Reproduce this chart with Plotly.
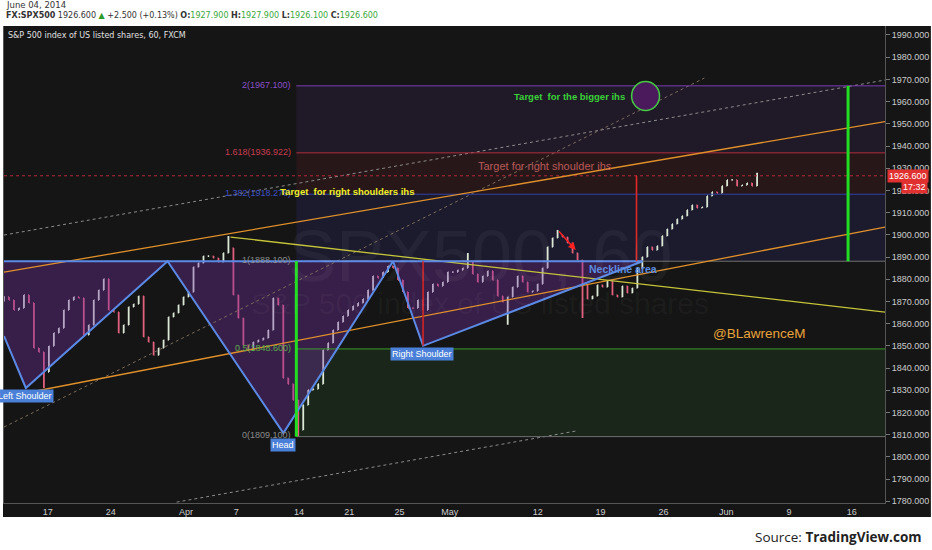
import plotly.graph_objects as go

# ---------------- data ----------------
# x unit = trading days since Mon 17 Mar 2014 (Good Friday excluded)
tick_days = [0, 5, 11, 15, 20, 24, 28, 32, 39, 44, 49, 54, 59, 64]
tick_text = ['17', '24', 'Apr', '7', '14', '21', '25', 'May', '12', '19', '26', 'Jun', '9', '16']
price_ticks = list(range(1780, 2000, 10))

bar_start = -3.49     # first sampled bar (trading days)
bar_step = 0.397      # spacing of sampled bars (trading days)
first_open = 1870.0
closes = [1872.0, 1870.6, 1866.1, 1867.0, 1872.9, 1869.3, 1849.0, 1847.2, 1838.2, 1849.9,
          1855.8, 1858.0, 1866.1, 1870.6, 1872.0, 1871.5, 1854.9, 1859.4, 1870.6, 1875.1,
          1880.1, 1866.1, 1865.2, 1855.8, 1859.4, 1867.5, 1868.8, 1872.4, 1854.0, 1851.7,
          1845.8, 1849.0, 1852.6, 1863.0, 1864.8, 1868.4, 1872.0, 1874.2, 1885.5, 1887.3,
          1890.4, 1890.4, 1889.5, 1887.7, 1891.8, 1894.1, 1872.9, 1862.5, 1850.4, 1848.1,
          1851.7, 1852.6, 1853.5, 1857.1, 1871.5, 1868.4, 1835.5, 1832.8, 1825.6, 1812.1,
          1823.3, 1830.1, 1830.5, 1832.8, 1848.1, 1851.3, 1857.1, 1860.7, 1863.4, 1866.1,
          1867.9, 1869.3, 1871.1, 1875.1, 1881.4, 1880.5, 1883.2, 1885.9, 1885.0, 1879.6,
          1874.2, 1867.0, 1867.0, 1870.6, 1866.1, 1874.2, 1877.8, 1876.9, 1878.7, 1883.2,
          1883.2, 1884.1, 1885.0, 1887.7, 1882.3, 1878.7, 1881.4, 1883.7, 1879.6, 1872.4,
          1869.7, 1872.0, 1876.5, 1881.4, 1878.7, 1874.2, 1874.7, 1877.8, 1885.0, 1894.5,
          1898.6, 1899.9, 1899.0, 1896.3, 1891.8, 1888.6, 1877.4, 1871.1, 1872.4, 1877.4,
          1876.5, 1879.2, 1872.9, 1872.0, 1876.9, 1873.8, 1876.0, 1885.0, 1890.0, 1894.5,
          1893.1, 1895.0, 1899.5, 1902.6, 1904.9, 1907.1, 1908.5, 1911.2, 1913.4, 1912.1,
          1912.5, 1917.5, 1919.3, 1918.8, 1922.0, 1924.7, 1924.7, 1922.0, 1922.4, 1923.3,
          1922.0, 1926.6]
wick_high_idx = [45, 93, 111, 151]
wick_high_val = [1899.5, 1891.8, 1902.2, 1927.9]
wick_low_idx = [8, 59, 101, 116]
wick_low_val = [1831.0, 1809.1, 1859.5, 1862.5]

last_price = 1926.6

# Fibonacci levels
fib_ratio = ['2', '1.618', '1.382', '1', '0.5', '0']
fib_value = [1967.1, 1936.922, 1918.278, 1888.1, 1848.6, 1809.1]
fib_x0, fib_x1 = 19.78, 66.64

# Head & shoulders pattern points
hs_x = [-3.49, -1.75, 9.53, 18.75, 27.48, 29.87, 47.34]
hs_y = [1854.4, 1831.0, 1888.1, 1810.7, 1888.1, 1850.0, 1888.1]
neckline = 1888.1

# trend / channel lines (x0, x1, y0, y1)
orange_upper = ([-3.49, 66.64], [1883.2, 1951.0])
orange_lower = ([-1.35, 66.64], [1829.2, 1903.5])
yellow_line = ([14.54, 66.64], [1899.0, 1865.2])
dotted_1 = ([-3.49, 66.64], [1899.9, 1969.7])
dotted_2 = ([-3.49, 52.26], [1813.4, 1970.6])
dotted_3 = ([10.25, 42.02], [1779.6, 1811.6])

# measurement lines
green_1 = ([19.78, 19.78], [1809.1, 1888.1])
green_2 = ([63.7, 63.7], [1888.1, 1967.1])
red_1 = ([29.87, 29.87], [1850.0, 1888.1])
red_2 = ([46.86, 46.86], [1888.1, 1926.6])

# ---------------- build figure ----------------
n = len(closes)
bx = [bar_start + bar_step * i for i in range(n)]
opens = [first_open] + closes[:-1]
highs = [max(o, c) for o, c in zip(opens, closes)]
lows = [min(o, c) for o, c in zip(opens, closes)]
for i, v in zip(wick_high_idx, wick_high_val):
    highs[i] = v
for i, v in zip(wick_low_idx, wick_low_val):
    lows[i] = v

X0, X1 = -3.49, 66.64
Y0, Y1 = 1779.2, 1994.05
BG = '#151515'

fig = go.Figure()

# H&S triangles (purple fills)
tris = [
    ([hs_x[0], hs_x[0], hs_x[1], hs_x[2]], [neckline, hs_y[0], hs_y[1], hs_y[2]]),
    ([hs_x[2], hs_x[3], hs_x[4]], [hs_y[2], hs_y[3], hs_y[4]]),
    ([hs_x[4], hs_x[5], hs_x[6]], [hs_y[4], hs_y[5], hs_y[6]]),
]
for tx, ty in tris:
    fig.add_trace(go.Scatter(x=tx, y=ty, fill='toself', mode='none',
                             fillcolor='rgba(120,50,170,0.36)', hoverinfo='skip'))

def line(xy, color, width=1, dash='solid'):
    fig.add_trace(go.Scatter(x=xy[0], y=xy[1], mode='lines',
                             line=dict(color=color, width=width, dash=dash),
                             hoverinfo='skip'))

# dotted helper lines
line(dotted_1, '#8c8c8c', 1, 'dot')
line(dotted_2, '#7a6a5a', 1, 'dot')
line(dotted_3, '#8c8c8c', 1, 'dot')

# price line
line(([X0, X1], [last_price, last_price]), '#b02838', 1, 'dot')

# fib level lines
fib_colors = ['#7b3fb5', '#b02e40', '#3040a8', '#6f6f6f', '#3c9a2c', '#6f6f6f']
for v, c in zip(fib_value, fib_colors):
    line(([fib_x0, fib_x1], [v, v]), c, 1)

# price bars
fig.add_trace(go.Ohlc(
    x=bx, open=opens, high=highs, low=lows, close=closes,
    increasing=dict(line=dict(color='#dce8d6', width=1.8)),
    decreasing=dict(line=dict(color='#e0607e', width=1.8)),
    tickwidth=0.15, hoverinfo='skip'))

# channel lines
line(orange_upper, '#e0902a', 1.3)
line(orange_lower, '#e0902a', 1.3)
line(yellow_line, '#c4c43a', 1.3)

# H&S pattern lines
line(([hs_x[0], hs_x[-1]], [neckline, neckline]), '#5b8ae6', 2)
line((hs_x, hs_y), '#5b8ae6', 2)

# measurement lines
line(red_1, '#d02626', 1.6)
line(red_2, '#e02828', 1.6)
line(green_1, '#22dd22', 3)
line(green_2, '#22dd22', 3)

# ---------------- shapes ----------------
shapes = []
# dark chart frame (behind everything)
shapes.append(dict(type='rect', xref='paper', yref='paper', x0=-1 / 883, x1=929 / 883,
                   y0=-14 / 477, y1=1.0, fillcolor=BG, line=dict(width=0), layer='below'))
zone_fill = ['rgba(110,55,165,0.13)', 'rgba(170,40,55,0.13)', 'rgba(60,60,175,0.16)',
             'rgba(90,90,90,0.0)', 'rgba(60,140,50,0.14)']
for k in range(5):
    shapes.append(dict(type='rect', xref='x', yref='y', x0=fib_x0, x1=fib_x1,
                       y0=fib_value[k + 1], y1=fib_value[k], fillcolor=zone_fill[k],
                       line=dict(width=0), layer='below'))
# target circle
shapes.append(dict(type='circle', xref='x', yref='y', x0=46.47, x1=48.69, y0=1956.0, y1=1969.0,
                   fillcolor='#4a1a5c', line=dict(color='#44cc44', width=1.5), layer='above'))

# ---------------- annotations ----------------
ann = []
def txt(x, y, text, color, size, xanchor='center', yanchor='middle', bold=False,
        ref='data', family='Liberation Sans', **kw):
    t = '<b>%s</b>' % text if bold else text
    d = dict(x=x, y=y, text=t, showarrow=False, xanchor=xanchor, yanchor=yanchor,
             font=dict(color=color, size=size, family=family))
    if ref == 'paper':
        d.update(xref='paper', yref='paper')
    else:
        d.update(xref='x', yref='y')
    d.update(kw)
    ann.append(d)

# watermark
txt(34.4, 1890.5, 'SPX500, 60', 'rgba(255,255,255,0.045)', 72)
txt(34.4, 1869.0, 'S&P 500 index of US listed shares', 'rgba(255,255,255,0.04)', 30)

# fib labels
for r, v, c in zip(fib_ratio, fib_value, ['#8a50c8', '#c83c50', '#4050c0', '#8a8a8a', '#58b048', '#8a8a8a']):
    txt(19.54, v + 0.6, '%s(%.3f)' % (r, v), c, 9, xanchor='right')

txt(41.54, 1962.5, 'Target  for the bigger ihs', '#3ad23a', 9.5, bold=True)
txt(23.79, 1919.7, 'Target  for right shoulders ihs', '#f0f028', 9.5, bold=True)
txt(39.56, 1931.0, 'Target for right shoulder ihs', '#b85a5a', 11)
txt(56.63, 1855.75, '@BLawrenceM', '#e8a33a', 13.5)
txt(45.75, 1884.6, 'Neckline area', '#5d8ee0', 10.5, bold=True)

for x, y, t in [(-1.79, 1827.4, 'Left Shoulder'), (18.75, 1805.3, 'Head'), (29.75, 1846.4, 'Right Shoulder')]:
    txt(x, y, t, 'white', 9, bgcolor='#4a80d8', borderpad=1)

# red arrow
ann.append(dict(x=42.02, y=1893.1, ax=40.59, ay=1902.2, xref='x', yref='y', axref='x', ayref='y',
                showarrow=True, arrowhead=2, arrowsize=1, arrowwidth=1.5, arrowcolor='#ff2020', text=''))

# header
txt(0, 1.044, 'June 04, 2014', '#333333', 8.5, xanchor='left', ref='paper', family='DejaVu Sans')
hdr = ("<b>FX:SPX500</b> 1926.600 <span style='color:#2a9a2a'>\u25b2</span> +2.500 (+0.13%) "
       "<b>O:</b><span style='color:#3aa83a'>1927.900</span> "
       "<b>H:</b><span style='color:#3aa83a'>1927.900</span> "
       "<b>L:</b><span style='color:#3aa83a'>1926.100</span> "
       "<b>C:</b><span style='color:#3aa83a'>1926.600</span>")
txt(0, 1.021, hdr, '#333333', 8, xanchor='left', ref='paper', family='DejaVu Sans')
txt(2 / 883, 0.981, 'S&P 500 index of US listed shares, 60, FXCM', '#e0e0e0', 8,
    xanchor='left', ref='paper', family='DejaVu Sans')

# price label on axis
ann.append(dict(x=1 + 2 / 883, y=last_price, xref='paper', yref='y', text='1926.600', showarrow=False,
                xanchor='left', yanchor='middle', bgcolor='#e03030', borderpad=1,
                font=dict(color='white', size=9, family='Liberation Sans')))
ann.append(dict(x=1 + 16 / 883, y=1921.5, xref='paper', yref='y', text='17:32', showarrow=False,
                xanchor='left', yanchor='middle', bgcolor='#e03030', borderpad=1,
                font=dict(color='white', size=9, family='Liberation Sans')))

# source
txt(922 / 883, -34 / 477, "Source: <b>TradingView.com</b>", '#222222', 13.5, xanchor='right',
    ref='paper', family='Open Sans')

fig.update_layout(
    width=932, height=550, autosize=False,
    margin=dict(l=3, r=46, t=26, b=47),
    paper_bgcolor='white', plot_bgcolor=BG,
    showlegend=False, shapes=shapes, annotations=ann,
    font=dict(family='Liberation Sans', color='#cccccc'),
    xaxis=dict(range=[X0, X1], tickvals=tick_days, ticktext=tick_text, showgrid=False,
               zeroline=False, showline=True, linecolor='#555555', ticks='',
               tickfont=dict(size=9, color='#cccccc'), rangeslider=dict(visible=False),
               fixedrange=True),
    yaxis=dict(range=[Y0, Y1], side='right', tickvals=price_ticks,
               ticktext=['%.3f' % v for v in price_ticks], showgrid=False, zeroline=False,
               showline=True, mirror=True, linecolor='#555555', ticks='outside', ticklen=4,
               tickcolor='#777777', tickfont=dict(size=9, color='#cccccc'), fixedrange=True),
)

fig.write_html("out.html", config={'displayModeBar': False},
               post_script="document.body.style.margin='0px';")
